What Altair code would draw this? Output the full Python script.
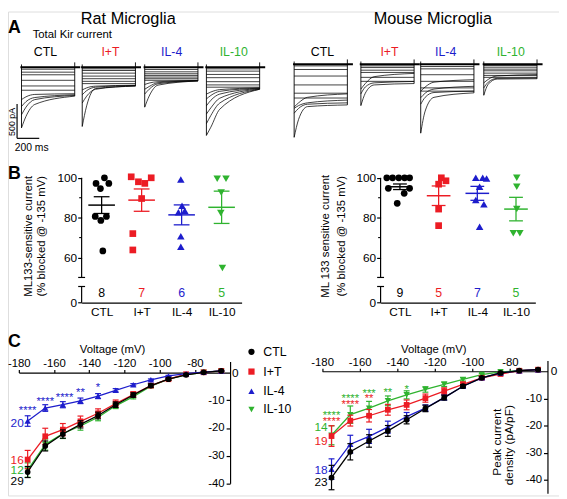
import json
import altair as alt
import pandas as pd

W, H = 559, 491
SANS = "Liberation Sans, Arial, sans-serif"

GROUPS = ["CTL", "I+T", "IL-4", "IL-10"]
COLORS = ["#000000", "#ec1c24", "#1d1dcc", "#2fb32f"]
SHAPES = ["circle", "square", "triangle-up", "triangle-down"]
COLOR = dict(zip(GROUPS, COLORS))
SHAPE = dict(zip(GROUPS, SHAPES))

# ---------------- Panel A : Kir current traces (pA), voltage steps 0..480 ms
PULSE_MS = 480
DECAY_T = [0, 40, 120, PULSE_MS]
RAT_FLAT = {
    "CTL": [-29, -72, -110, -190, -272, -334],
    "I+T": [-24, -48, -86, -129, -167, -205, -238],
    "IL-4": [-33, -67, -95, -119, -143, -167, -190],
    "IL-10": [-24, -57, -105, -152, -210, -257, -290],
}
RAT_DECAY = {
    "CTL": [(-470, -430, -395, -385), (-570, -500, -440, -400), (-690, -580, -470, -410), (-880, -715, -540, -420)],
    "I+T": [(-330, -300, -275, -262), (-400, -340, -290, -265), (-520, -420, -320, -270), (-860, -560, -310, -275)],
    "IL-4": [(-250, -230, -210, -195), (-320, -280, -225, -196), (-390, -320, -240, -198), (-580, -420, -260, -200)],
    "IL-10": [(-390, -360, -325, -300), (-460, -410, -350, -305), (-560, -480, -390, -310),
              (-680, -590, -450, -315), (-820, -700, -520, -320), (-990, -870, -610, -320)],
}
MOUSE_FLAT = {
    "CTL": [-24, -76, -171, -300, -420, -490],
    "I+T": [-24, -48, -86, -119, -190, -248],
    "IL-4": [-33, -67, -152, -248, -343, -390],
    "IL-10": [-19, -43, -71, -95, -129, -162, -190],
}
MOUSE_DECAY = {
    "CTL": [(-620, -560, -480, -430), (-640, -600, -560, -520), (-710, -640, -580, -560), (-1060, -800, -615, -590)],
    "I+T": [(-360, -280, -180, -133), (-430, -330, -270, -250), (-600, -420, -300, -280)],
    "IL-4": [(-390, -330, -260, -224), (-486, -420, -360, -320), (-580, -480, -410, -390), (-1000, -680, -480, -415)],
    "IL-10": [(-270, -220, -170, -150), (-343, -260, -205, -200), (-450, -290, -215, -210)],
}
SB_MS, SB_PA = 200, 500          # scale bar size
SB_T0, SB_I0 = -40, -1032        # scale bar corner

# ---------------- Panel B : ML133-sensitive current (% blocked)
RAT_B_OFF = {
    "CTL": [0.07, -0.14, 0.18, -0.03, -0.16, 0.12, -0.02, 0.03],
    "I+T": [-0.26, -0.08, 0.08, 0.24, 0.0, -0.22, -0.22],
    "IL-4": [-0.02, 0.01, -0.08, 0.08, -0.02, -0.02],
    "IL-10": [-0.11, 0.11, -0.01, -0.02, 0.02],
}
RAT_B_VAL = {
    "CTL": [100, 97.2, 97.2, 94.6, 80.6, 80.6, 78.6, 63.3],
    "I+T": [100.5, 98, 97.2, 100, 89.6, 72, 63.8],
    "IL-4": [99.2, 86, 82.7, 83.5, 70.7, 65.4],
    "IL-10": [99.5, 99.5, 92.6, 82.4, 54.7],
}
RAT_B_MEAN = [86.3, 88.8, 81.4, 85.2]
RAT_B_SEM = [4.2, 5.6, 5.0, 8.1]
RAT_B_N = ["8", "7", "6", "5"]

MOUSE_B_OFF = {
    "CTL": [-0.34, -0.19, -0.03, 0.12, 0.25, -0.30, 0.25, 0.11, -0.07],
    "I+T": [0.07, 0.19, 0.0, 0.0, 0.0],
    "IL-4": [-0.04, 0.14, 0.24, 0.06, -0.04, 0.17, 0.06],
    "IL-10": [0.02, 0.02, 0.02, -0.07, 0.10],
}
MOUSE_B_VAL = {
    "CTL": [100, 100, 100, 100, 100, 94.7, 94.7, 92.2, 87.2],
    "I+T": [100, 98.5, 96.8, 84.3, 76],
    "IL-4": [100, 100, 99.7, 95.5, 88.8, 86.7, 75.5],
    "IL-10": [100, 95.5, 84.3, 72.2, 72.2],
}
MOUSE_B_MEAN = [95.5, 91.0, 92.2, 84.3]
MOUSE_B_SEM = [1.4, 4.9, 3.5, 5.9]
MOUSE_B_N = ["9", "5", "7", "5"]

# ---------------- Panel C : I-V relationship (pA/pF)
VOLT = [-175, -165, -155, -145, -135, -125, -115, -105, -95, -85, -75, -65]
RAT_C = {
    "CTL": [-35.9, -26.5, -22.2, -18.7, -15.5, -11.6, -8.1, -4.7, -2.4, -0.8, 0.1, 0.6],
    "I+T": [-31.4, -23.0, -20.6, -17.6, -14.7, -11.2, -7.9, -4.7, -2.4, -0.6, 0.1, 0.6],
    "IL-4": [-17.5, -12.8, -11.6, -10.2, -8.5, -6.4, -4.4, -2.6, -1.2, -0.4, 0.2, 0.6],
    "IL-10": [-35.2, -26.0, -22.0, -19.3, -16.1, -12.0, -8.7, -4.9, -2.4, -0.8, 0.1, 0.6],
}
RAT_C_ERR = {
    "CTL": [2.0, 1.8, 1.5, 1.3, 1.2, 1.0, 0.8, 0.6, 0.4, 0.3, 0.2, 0.2],
    "I+T": [3.3, 2.9, 2.2, 1.9, 1.6, 1.3, 1.0, 0.7, 0.4, 0.3, 0.2, 0.2],
    "IL-4": [1.9, 1.2, 1.1, 1.0, 0.9, 0.6, 0.4, 0.3, 0.2, 0.1, 0.1, 0.1],
    "IL-10": [2.6, 2.0, 1.8, 1.5, 1.3, 1.0, 0.8, 0.6, 0.4, 0.3, 0.2, 0.2],
}
RAT_C_N = {"IL-4": ("20", -18.4), "I+T": ("16", -31.6), "IL-10": ("12", -35.1), "CTL": ("29", -39.0)}
RAT_C_STARS = [(-175, -12.7, "****", "IL-4"), (-165, -9.5, "****", "IL-4"), (-154, -8.1, "****", "IL-4"),
               (-145, -6.3, "**", "IL-4"), (-135, -4.5, "*", "IL-4")]
MOUSE_C = {
    "CTL": [-39.2, -29.7, -25.7, -22.0, -17.9, -13.7, -9.7, -5.5, -2.4, -0.6, 0.2, 0.6],
    "I+T": [-23.9, -18.2, -16.4, -14.2, -12.4, -9.9, -7.3, -4.8, -2.4, -1.0, 0.2, 0.6],
    "IL-4": [-36.1, -26.9, -24.0, -20.6, -16.7, -13.6, -9.7, -5.5, -2.4, -0.6, 0.2, 0.6],
    "IL-10": [-23.6, -16.0, -13.6, -10.9, -8.7, -6.7, -4.8, -3.0, -1.2, -0.2, 0.2, 0.6],
}
MOUSE_C_ERR = {
    "CTL": [4.5, 3.0, 2.3, 2.0, 1.5, 1.2, 0.9, 0.6, 0.4, 0.3, 0.2, 0.2],
    "I+T": [3.8, 2.0, 2.3, 2.0, 1.8, 1.5, 1.2, 0.8, 0.5, 0.3, 0.2, 0.2],
    "IL-4": [3.8, 3.3, 2.6, 2.2, 1.5, 1.2, 0.9, 0.6, 0.4, 0.3, 0.2, 0.2],
    "IL-10": [3.5, 3.2, 2.5, 1.8, 1.5, 1.0, 0.8, 0.6, 0.4, 0.3, 0.2, 0.2],
}
MOUSE_C_N = {"IL-10": ("14", -20.7), "I+T": ("19", -25.8), "IL-4": ("18", -36.4), "CTL": ("23", -40.7)}
MOUSE_C_STARS = [(-175, -15.5, "****", "IL-10"), (-175, -17.7, "****", "I+T"),
                 (-165, -9.3, "****", "IL-10"), (-165, -11.3, "****", "I+T"),
                 (-155, -7.4, "***", "IL-10"), (-155, -9.3, "**", "I+T"),
                 (-145, -6.8, "**", "IL-10"), (-135, -5.8, "*", "IL-10")]
C_ORDER = ["IL-10", "I+T", "IL-4", "CTL"]

# ---------------- layout (pixels)
PULSE_PX = 54
PA_PER_PX = 14.3
I_MIN, I_MAX = -1100, 100
RAT_TRACE_X0 = [13.7, 75.3, 138.7, 201.3]
MOUSE_TRACE_X0 = [290.3, 358.0, 418.7, 482.7]
RAT_ZERO, MOUSE_ZERO = 56.5, 53.5
B_Y_RANGE = [295.3, 269.8, 168.7]
BREAK_LOW = 32
AXFS = 12
CFS = 11.5


def trace_layers(flat, decay, x0, zero_px, with_bar=False):
    rows, sid = [], 0
    for v in flat:
        rows.append({"s": sid, "t": 0, "i": v})
        rows.append({"s": sid, "t": PULSE_MS, "i": v})
        sid += 1
    for sweep in decay:
        for t, v in zip(DECAY_T, sweep):
            rows.append({"s": sid, "t": t, "i": v})
        sid += 1
    df = pd.DataFrame(rows)
    xs = alt.Scale(domain=[0, PULSE_MS], range=[x0, x0 + PULSE_PX], nice=False, zero=False)
    ys = alt.Scale(domain=[I_MIN, I_MAX],
                   range=[zero_px - I_MIN / PA_PER_PX, zero_px - I_MAX / PA_PER_PX], nice=False, zero=False)
    X = alt.X("t:Q", scale=xs, axis=None)
    Y = alt.Y("i:Q", scale=ys, axis=None)
    parts = [alt.Chart(df).mark_line(color="black", strokeWidth=0.75, interpolate="monotone")
             .encode(x=X, y=Y, detail="s:N")]
    peaks = list(flat) + [d[0] for d in decay]
    ends = list(flat) + [d[-1] for d in decay]
    edges = pd.DataFrame({"t": [0, PULSE_MS], "i": [40, 70], "i2": [min(peaks), min(ends)]})
    parts.append(alt.Chart(edges).mark_rule(color="black", strokeWidth=0.9)
                 .encode(x=X, y=Y, y2="i2:Q"))
    hold = pd.DataFrame({"t": [-10], "t2": [530], "i": [0]})
    parts.append(alt.Chart(hold).mark_rule(color="black", strokeWidth=2)
                 .encode(x=X, x2="t2:Q", y=Y))
    if with_bar:
        bar = pd.DataFrame({"t": [SB_T0, SB_T0], "t2": [SB_T0, SB_T0 + SB_MS],
                            "i": [SB_I0, SB_I0], "i2": [SB_I0 + SB_PA, SB_I0]})
        parts.append(alt.Chart(bar).mark_rule(color="black", strokeWidth=1.2)
                     .encode(x=X, x2="t2:Q", y=Y, y2="i2:Q"))
    return parts


LABEL_EXPR = json.dumps(GROUPS) + "[datum.value]"
AX_COMMON = dict(grid=False, title=None, labelColor="black", tickColor="black", domainColor="black",
                 labelOverlap=False, labelFlush=False, labelFont=SANS)


def b_layers(offs, vals, means, sems, ns, x_range, y_off, x_off, mean_w, cap_w):
    xs = alt.Scale(domain=[-0.5, 3.5], range=x_range, nice=False, zero=False)
    ys = alt.Scale(domain=[0, 50, 100], range=B_Y_RANGE, nice=False, zero=False)
    xax = alt.Axis(orient="bottom", offset=x_off, values=[0, 1, 2, 3], labelExpr=LABEL_EXPR, ticks=False,
                   labelFontSize=AXFS, labelPadding=4, domainWidth=1.2, **AX_COMMON)
    yax = alt.Axis(orient="left", offset=y_off, values=[0, 60, 80, 100], domain=False, tickSize=4,
                   tickWidth=1.2, labelFontSize=AXFS, labelPadding=1, **AX_COMMON)

    def X(f, ax=None):
        return alt.X(f, type="quantitative", scale=xs, axis=ax)

    def Y(f, ax=None):
        return alt.Y(f, type="quantitative", scale=ys, axis=ax)

    step = (x_range[1] - x_range[0]) / 4.0
    seg = pd.DataFrame({"x": [-0.5, -0.5], "y": [0, 50], "y2": [BREAK_LOW, 100]})
    L = [alt.Chart(seg).mark_rule(color="black", strokeWidth=1.2)
         .encode(x=X("x", xax), y=Y("y", yax), y2="y2:Q")]
    brk = pd.DataFrame({"x": [-0.5, -0.5], "y": [BREAK_LOW, 50]})
    L.append(alt.Chart(brk).mark_tick(orient="horizontal", size=7, thickness=1.2, color="black", opacity=1)
             .encode(x=X("x"), y=Y("y")))
    minor = pd.DataFrame({"x": [-0.5, -0.5], "x2": [-0.5 - 2.5 / step] * 2, "y": [70, 90]})
    L.append(alt.Chart(minor).mark_rule(color="black", strokeWidth=1.1)
             .encode(x=X("x"), x2="x2:Q", y=Y("y")))
    for k, g in enumerate(GROUPS):
        df = pd.DataFrame({"pos": [k + o for o in offs[g]], "val": vals[g]})
        sz = 58 if "triangle" in SHAPE[g] else 46
        L.append(alt.Chart(df).mark_point(shape=SHAPE[g], filled=True, size=sz, color=COLOR[g],
                                          opacity=1, strokeWidth=0)
                 .encode(x=X("pos"), y=Y("val")))
    st = pd.DataFrame({"idx": list(range(4)), "mean": means,
                       "lo": [m - s for m, s in zip(means, sems)],
                       "hi": [m + s for m, s in zip(means, sems)],
                       "color": COLORS, "n": ns, "ny": [19.5] * 4})
    C = alt.Color("color:N", scale=None)
    L.append(alt.Chart(st).mark_rule(strokeWidth=1.3).encode(x=X("idx"), y=Y("lo"), y2="hi:Q", color=C))
    L.append(alt.Chart(st).mark_tick(orient="horizontal", size=cap_w, thickness=1.3, opacity=1)
             .encode(x=X("idx"), y=Y("lo"), color=C))
    L.append(alt.Chart(st).mark_tick(orient="horizontal", size=cap_w, thickness=1.3, opacity=1)
             .encode(x=X("idx"), y=Y("hi"), color=C))
    L.append(alt.Chart(st).mark_tick(orient="horizontal", size=mean_w, thickness=1.5, opacity=1)
             .encode(x=X("idx"), y=Y("mean"), color=C))
    L.append(alt.Chart(st).mark_text(font=SANS, fontSize=12.5, baseline="middle", align="center")
             .encode(x=X("idx"), y=Y("ny"), text="n:N", color=C))
    return L


def c_layers(means, errs, nlab, stars, x_range, y_dom, zero_px, ppu):
    y_range = [zero_px - y_dom[0] * ppu, zero_px - y_dom[1] * ppu]
    xs = alt.Scale(domain=[-180, -60], range=x_range, nice=False, zero=False)
    ys = alt.Scale(domain=y_dom, range=y_range, nice=False, zero=False)
    xax = alt.Axis(orient="top", offset=-zero_px, values=list(range(-180, -79, 20)),
                   labelExpr="'' + datum.value", tickSize=3, tickWidth=1.2, domainWidth=1.2,
                   labelFontSize=CFS, labelPadding=1, **AX_COMMON)
    yax = alt.Axis(orient="left", offset=-x_range[1], values=[-10, -20, -30, -40],
                   labelExpr="'' + datum.value", tickSize=4, tickWidth=1.2, domainWidth=1.2,
                   labelFontSize=CFS, labelPadding=2, **AX_COMMON)

    def X(f, ax=None):
        return alt.X(f, type="quantitative", scale=xs, axis=ax)

    def Y(f, ax=None):
        return alt.Y(f, type="quantitative", scale=ys, axis=ax)

    L = []
    first = True
    for g in C_ORDER:
        df = pd.DataFrame({"v": VOLT, "m": means[g],
                           "lo": [m - e for m, e in zip(means[g], errs[g])],
                           "hi": [m + e for m, e in zip(means[g], errs[g])]})
        L.append(alt.Chart(df).mark_line(color=COLOR[g], strokeWidth=1.3)
                 .encode(x=X("v", xax if first else None), y=Y("m", yax if first else None)))
        first = False
        L.append(alt.Chart(df).mark_rule(color=COLOR[g], strokeWidth=1.2)
                 .encode(x=X("v"), y=Y("lo"), y2="hi:Q"))
        for f in ("lo", "hi"):
            L.append(alt.Chart(df).mark_tick(orient="horizontal", size=6, thickness=1.2,
                                             color=COLOR[g], opacity=1)
                     .encode(x=X("v"), y=Y(f)))
        sz = 42 if "triangle" in SHAPE[g] else 34
        L.append(alt.Chart(df).mark_point(shape=SHAPE[g], filled=True, size=sz, color=COLOR[g],
                                          opacity=1, strokeWidth=0)
                 .encode(x=X("v"), y=Y("m")))
    sd = pd.DataFrame([{"v": v, "y": y, "t": t, "color": COLOR[g]} for v, y, t, g in stars])
    L.append(alt.Chart(sd).mark_text(font=SANS, fontSize=11.5, baseline="middle", align="center", dy=3)
             .encode(x=X("v"), y=Y("y"), text="t:N", color=alt.Color("color:N", scale=None)))
    nd = pd.DataFrame([{"v": VOLT[0], "y": y, "t": t, "color": COLOR[g]} for g, (t, y) in nlab.items()])
    L.append(alt.Chart(nd).mark_text(font=SANS, fontSize=12, baseline="middle", align="right", dx=-4)
             .encode(x=X("v"), y=Y("y"), text="t:N", color=alt.Color("color:N", scale=None)))
    return L


# ---------------- free text (pixel positions)
ANN = [
    ("Rat Microglia", 122, 13, 16.5, "black", "normal", "center", "alphabetic", 0),
    ("Mouse Microglia", 431, 13, 16.5, "black", "normal", "center", "alphabetic", 0),
    ("A", 0, 22, 18, "black", "bold", "left", "alphabetic", 0),
    ("Total Kir current", 25, 27, 11.5, "black", "normal", "left", "alphabetic", 0),
    ("500 pA", 4.5, 112, 9, "black", "normal", "center", "middle", 270),
    ("200 ms", 24, 142, 10.5, "black", "normal", "center", "alphabetic", 0),
    ("B", 0, 170, 18, "black", "bold", "left", "alphabetic", 0),
    ("ML133-sensitive current", 21, 228, 11.5, "black", "normal", "center", "middle", 270),
    ("(% blocked @ -135 mV)", 35, 228, 11.5, "black", "normal", "center", "middle", 270),
    ("ML 133 sensitive current", 323, 228, 11.5, "black", "normal", "center", "middle", 270),
    ("(% blocked @  -135 mV)", 339, 228, 11.5, "black", "normal", "center", "middle", 270),
    ("C", 0, 340, 18, "black", "bold", "left", "alphabetic", 0),
    ("Voltage (mV)", 106, 346, 11.5, "black", "normal", "center", "alphabetic", 0),
    ("Voltage (mV)", 432, 346, 11.5, "black", "normal", "center", "alphabetic", 0),
    ("0", 230.5, 367, 12, "black", "normal", "center", "middle", 0),
    ("0", 554, 365, 12, "black", "normal", "center", "middle", 0),
    ("Peak current", 496, 437, 12, "black", "normal", "center", "middle", 270),
    ("density (pA/pF)", 508.5, 440, 12, "black", "normal", "center", "middle", 270),
]
for g, x in zip(GROUPS, [38, 104, 166, 229]):
    ANN.append((g, x, 45, 12.5, COLOR[g], "normal", "center", "alphabetic", 0))
for g, x in zip(GROUPS, [319, 387, 444, 510]):
    ANN.append((g, x, 45, 12.5, COLOR[g], "normal", "center", "alphabetic", 0))
LEG_Y = [345.3, 365.3, 385.3, 403.7]
for g, y in zip(GROUPS, LEG_Y):
    ANN.append((g, 259, y, 12.5, "black", "normal", "left", "middle", 0))

ann = pd.DataFrame(ANN, columns=["text", "x", "y", "size", "color", "weight", "align", "baseline", "angle"])
text_layers = []
for (weight, align, baseline), d in ann.groupby(["weight", "align", "baseline"]):
    text_layers.append(
        alt.Chart(d).mark_text(font=SANS, fontWeight=weight, align=align, baseline=baseline)
        .encode(x=alt.X("x:Q", scale=None, axis=None), y=alt.Y("y:Q", scale=None, axis=None),
                text="text:N", size=alt.Size("size:Q", scale=None),
                color=alt.Color("color:N", scale=None), angle=alt.Angle("angle:Q", scale=None)))

leg = pd.DataFrame({"x": [247] * 4, "y": LEG_Y, "shape": SHAPES, "color": COLORS})
legend_layer = alt.Chart(leg).mark_point(filled=True, size=40, opacity=1, strokeWidth=0).encode(
    x=alt.X("x:Q", scale=None, axis=None), y=alt.Y("y:Q", scale=None, axis=None),
    shape=alt.Shape("shape:N", scale=None), color=alt.Color("color:N", scale=None))

layers = []
for k, g in enumerate(GROUPS):
    layers += trace_layers(RAT_FLAT[g], RAT_DECAY[g], RAT_TRACE_X0[k], RAT_ZERO, with_bar=(k == 0))
    layers += trace_layers(MOUSE_FLAT[g], MOUSE_DECAY[g], MOUSE_TRACE_X0[k], MOUSE_ZERO)
layers += b_layers(RAT_B_OFF, RAT_B_VAL, RAT_B_MEAN, RAT_B_SEM, RAT_B_N,
                   [74.7, 237.0], -74.7, 295.3 - H, 27, 16)
layers += b_layers(MOUSE_B_OFF, MOUSE_B_VAL, MOUSE_B_MEAN, MOUSE_B_SEM, MOUSE_B_N,
                   [378.0, 535.0], -378.0, 295.3 - H, 24, 14)
layers += c_layers(RAT_C, RAT_C_ERR, RAT_C_N, RAT_C_STARS, [11.0, 225.3], [-40, 4], 366.3, 2.81)
layers += c_layers(MOUSE_C, MOUSE_C_ERR, MOUSE_C_N, MOUSE_C_STARS, [318.7, 547.3], [-45, 4], 365.0, 2.75)
layers.append(legend_layer)
layers.extend(text_layers)

chart = (alt.layer(*layers)
         .resolve_scale(x="independent", y="independent")
         .properties(width=W, height=H, padding=0, autosize=alt.AutoSizeParams(type="none"))
         .configure_view(stroke=None)
         .configure(font=SANS))
chart.save("out.html", embed_options={"renderer": "svg", "actions": False})
